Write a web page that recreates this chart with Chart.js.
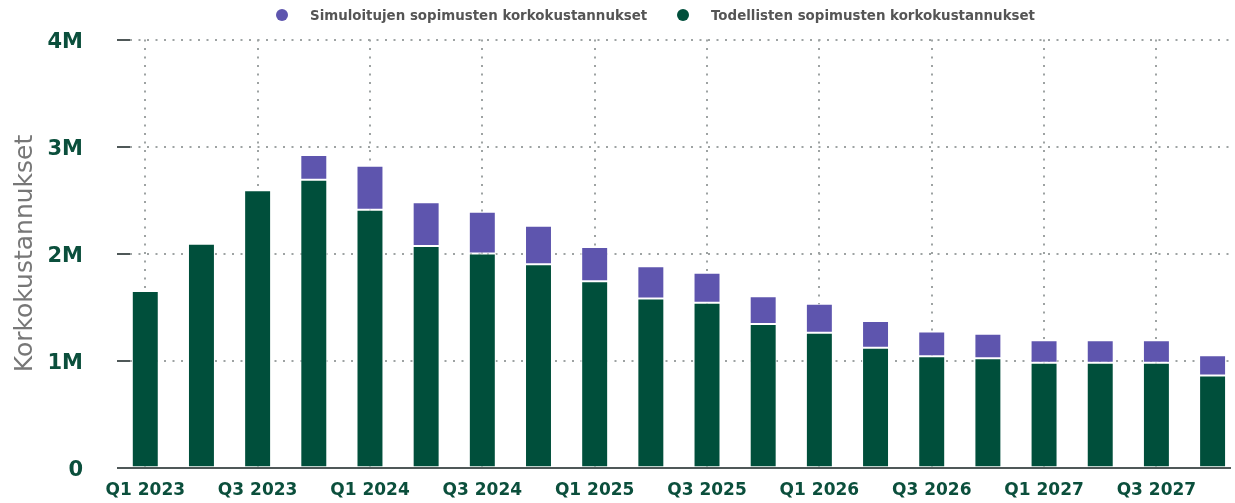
<!DOCTYPE html>
<html lang="fi">
<head>
<meta charset="utf-8">
<title>Korkokustannukset</title>
<script src="https://cdn.jsdelivr.net/npm/chart.js@4.4.1/dist/chart.umd.min.js"></script>
<style>
  html, body { margin: 0; padding: 0; background: #fff; }
  .wrap { position: relative; width: 1235px; height: 503px; }
  .legend { position: absolute; top: 3px; left: 0; right: 0; height: 24px;
            font: bold 13.4px 'DejaVu Sans', sans-serif; color: #555; }
  .legend-item { position: absolute; top: 0; height: 24px; display: flex; align-items: center; white-space: nowrap; }
  .legend-dot { width: 12px; height: 12px; border-radius: 50%; margin-right: 22px; }
</style>
</head>
<body>
<div class="wrap">
  <canvas id="chart"></canvas>
  <div class="legend" id="legend"></div>
</div>
<script>
// quarterly interest costs, actual contracts + simulated contracts on top
const CATEGORIES = [
  'Q1 2023', 'Q2 2023', 'Q3 2023', 'Q4 2023',
  'Q1 2024', 'Q2 2024', 'Q3 2024', 'Q4 2024',
  'Q1 2025', 'Q2 2025', 'Q3 2025', 'Q4 2025',
  'Q1 2026', 'Q2 2026', 'Q3 2026', 'Q4 2026',
  'Q1 2027', 'Q2 2027', 'Q3 2027', 'Q4 2027',
];
const ACTUAL = [
  1650000, 2090000, 2590000, 2690000, 2410000, 2070000, 2000000, 1900000, 1740000, 1580000,
  1540000, 1340000, 1260000, 1120000, 1040000, 1020000, 980000, 980000, 980000, 860000,
];
const SIMULATED = [
  0, 0, 0, 230000, 410000, 410000, 390000, 360000, 320000, 300000,
  280000, 260000, 270000, 250000, 230000, 230000, 210000, 210000, 210000, 190000,
];
const Y_TICK_LABELS = ['0', '1M', '2M', '3M', '4M'];
const SERIES_ACTUAL = 'Todellisten sopimusten korkokustannukset';
const SERIES_SIM = 'Simuloitujen sopimusten korkokustannukset';
const AXIS_TITLE = 'Korkokustannukset';

const GREEN = '#004f3b';
const PURPLE = '#5e55ae';
const LABEL_GREEN = '#0b4f3c';
const GRID = '#9ea3a3';
const AXIS = '#4f5858';

// html legend, simulated first like the original
const legendEl = document.getElementById('legend');
[[SERIES_SIM, PURPLE, 276], [SERIES_ACTUAL, GREEN, 677]].forEach(([name, color, left]) => {
  const item = document.createElement('div');
  item.className = 'legend-item';
  item.style.left = left + 'px';
  item.innerHTML = `<span class="legend-dot" style="background:${color}"></span><span>${name}</span>`;
  legendEl.appendChild(item);
});

Chart.defaults.font.family = "'DejaVu Sans', sans-serif";

const toPoints = arr => arr.map((v, i) => ({ x: i, y: v }));

new Chart(document.getElementById('chart'), {
  type: 'bar',
  data: {
    datasets: [
      {
        label: SERIES_ACTUAL, data: toPoints(ACTUAL),
        backgroundColor: GREEN, borderColor: '#fff', borderWidth: 1, borderSkipped: 'start',
        barPercentage: 0.48, categoryPercentage: 1,
      },
      {
        label: SERIES_SIM, data: toPoints(SIMULATED),
        backgroundColor: PURPLE, borderColor: '#fff', borderWidth: 1, borderSkipped: false,
        barPercentage: 0.48, categoryPercentage: 1,
      },
    ],
  },
  options: {
    responsive: true, maintainAspectRatio: false, animation: false,
    layout: { padding: { top: 39.5, right: 5, bottom: 0, left: 0 } },
    plugins: { legend: { display: false }, tooltip: { enabled: false } },
    scales: {
      x: {
        type: 'linear', stacked: true, offset: false,
        min: -0.272, max: 19.31,
        afterFit: s => { s.height = 35.5; },
        grid: { offset: false, color: GRID, lineWidth: 2, drawTicks: false },
        border: { display: true, color: AXIS, width: 2, dash: [2, 6.5] },
        ticks: {
          stepSize: 2, includeBounds: false, autoSkip: false, maxRotation: 0, padding: 13,
          color: LABEL_GREEN, font: { size: 17, weight: 'bold' },
          callback: v => CATEGORIES[v] ?? '',
        },
      },
      y: {
        stacked: true, min: 0, max: 4000000,
        // fixed axis width; the wide tick padding must not eat vertical space
        afterFit: s => { s.width = 130; s.paddingTop = 0; s.paddingBottom = 0; },
        grid: { color: GRID, lineWidth: 2, tickColor: AXIS, tickWidth: 2, tickLength: 13 },
        border: { display: false, dash: [2, 6.5] },
        ticks: {
          stepSize: 1000000, padding: 34, labelOffset: 3,
          color: LABEL_GREEN, font: { size: 21, weight: 'bold' },
          callback: (v, i) => Y_TICK_LABELS[i],
        },
        title: {
          display: true, text: AXIS_TITLE, color: '#777',
          font: { size: 25, weight: 'normal' }, padding: { top: 10, bottom: 0 },
        },
      },
    },
  },
});
</script>
</body>
</html>
